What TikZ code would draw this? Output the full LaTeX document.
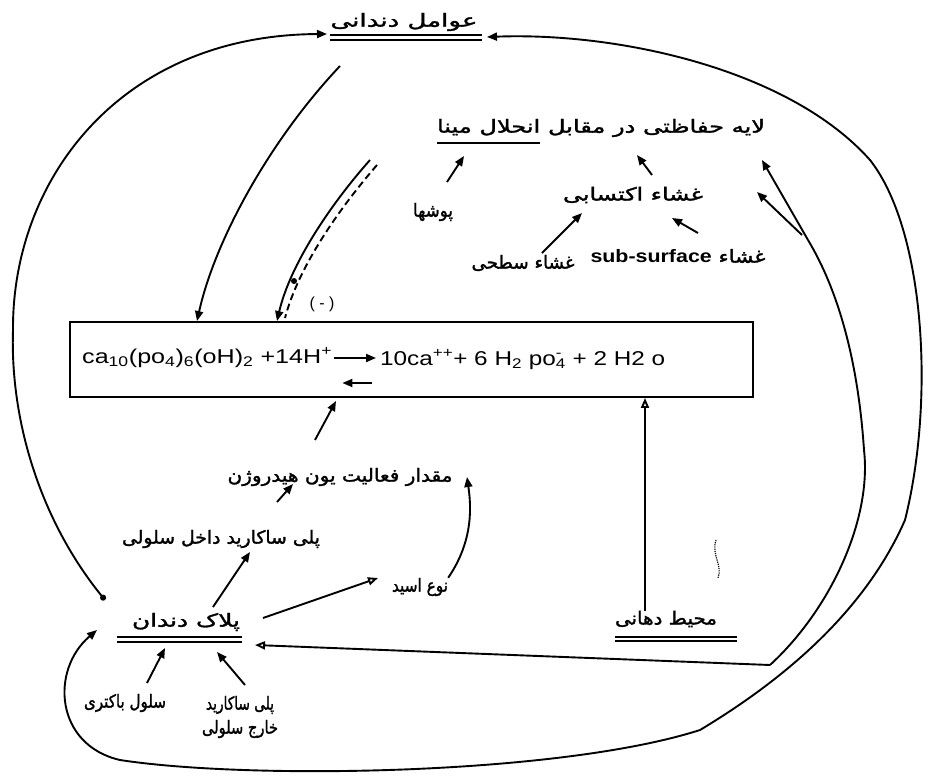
\documentclass[tikz,border=0pt]{standalone}
\usepackage{fontspec}
\usepackage{graphicx}
\usetikzlibrary{arrows.meta}

\newfontfamily\pfont[Script=Arabic,AutoFakeBold=1.5]{DejaVu Sans}
\newfontfamily\eqfont{Liberation Sans}
\TeXXeTstate=1

% stretch a box to a given width (pt), keeping its height
\newsavebox\fitbox
\newlength\fitlen
\newcommand\fitw[2]{\sbox\fitbox{#2}\setlength\fitlen{\wd\fitbox}%
	\pgfmathsetmacro\fitratio{#1/\fitlen}\scalebox{\fitratio}[1]{\usebox\fitbox}}
\newcommand\fa[2]{\fitw{#1}{\pfont\bfseries #2}}

\begin{document}
\begin{tikzpicture}[x=1pt,y=-1pt,
	lbl/.style={inner sep=0pt,font=\fontsize{18}{24}\selectfont},
	eq/.style={inner sep=0pt,font=\eqfont\fontsize{20}{24}\selectfont},
	wire/.style={line width=1.9pt},
	uline/.style={line width=1.4pt},
	tip/.style={-{Triangle[length=10pt,width=8pt]}},
	otip/.style={-{Triangle[open,length=10pt,width=8pt]}}]
	\useasboundingbox (0,0) rectangle (930,777);
	%
	\node[lbl] (dental) at (404,22) {\fa{147}{\beginR عوامل دندانی\endR}};
	\node[lbl] (layer) at (601,128) {\fa{328}{\beginR لایه حفاظتی در مقابل انحلال مینا\endR}};
	\node[lbl] (coat) at (433,212) {\fa{40}{\beginR پوشها\endR}};
	\node[lbl] (pellicle) at (633,195) {\fa{140}{\beginR غشاء اکتسابی\endR}};
	\node[lbl] (subsurf) at (678,256) {\fa{175}{\beginR غشاء \beginL{\eqfont\bfseries sub-surface}\endL\endR}};
	\node[lbl] (surface) at (523,263) {\fa{103}{\beginR غشاء سطحی\endR}};
	\node[lbl] (hyd) at (340,477) {\fa{225}{\beginR مقدار فعالیت یون هیدروژن\endR}};
	\node[lbl] (polyin) at (221,539) {\fa{198}{\beginR پلی ساکارید داخل سلولی\endR}};
	\node[lbl] (acid) at (420,587) {\fa{56}{\beginR نوع اسید\endR}};
	\node[lbl] (plaque) at (186,622) {\fa{108}{\beginR پلاک دندان\endR}};
	\node[lbl] (oral) at (666,619) {\fa{102}{\beginR محیط دهانی\endR}};
	\node[lbl] (bact) at (125,703) {\fa{82}{\beginR سلول باکتری\endR}};
	\node[lbl,align=center] (polyex) at (240,717) {\fa{68}{\beginR پلی ساکارید\endR}\\\fa{76}{\beginR خارج سلولی\endR}};
	%
	% the reaction
	\node[draw,wire,inner sep=0pt,minimum width=683pt,minimum height=75pt] (box) at (411.5,359.5) {};
	\node[eq,anchor=base west] (lhs) at (82,363) {\fitw{250}{ca\textsubscript{10}(po\textsubscript{4})\textsubscript{6}(oH)\textsubscript{2} +14H\textsuperscript{+}}};
	\node[eq,anchor=base west] (rhs) at (380,365) {\fitw{285}{10ca\textsuperscript{++}+ 6 H\textsubscript{2} po\rlap{\textsuperscript{-}}\textsubscript{4} + 2 H2 o}};
	\node[eq,font=\eqfont\fontsize{16}{18}\selectfont] (sign) at (322,304) {( - )};
	\draw[wire,tip] ([xshift=2pt,yshift=5pt]lhs.base east) -- ([xshift=-4pt,yshift=7pt]rhs.base west);
	\draw[wire,tip] ([xshift=-8pt,yshift=-18pt]rhs.base west) -- ([xshift=10pt,yshift=-20pt]lhs.base east);
	%
	% underlines
	\draw[uline] (330,35) -- (482,35) (330,40) -- (482,40);
	\draw[uline] (437,143) -- (540,143);
	\draw[uline] (117,637) -- (242,637) (117,642) -- (242,642);
	\draw[uline] (615,637) -- (737,637) (615,641) -- (737,641);
	%
	% arrow ends
	\coordinate (coat-a) at (447,182);    \coordinate (coat-b) at (464,156);
	\coordinate (pell-a) at (652,175);    \coordinate (pell-b) at (637,155);
	\coordinate (surf-a) at (542,253);    \coordinate (surf-b) at (582,213);
	\coordinate (sub-a) at (698,233);     \coordinate (sub-b) at (672,218);
	\coordinate (hyd-a) at (315,440);     \coordinate (hyd-b) at (336,401);
	\coordinate (pin-a) at (277,502);     \coordinate (pin-b) at (293,484);
	\coordinate (pl-a) at (213,607);      \coordinate (pl-b) at (250,552);
	\coordinate (ac-a) at (263,618);      \coordinate (ac-b) at (378,578);
	\coordinate (bac-a) at (147,683);     \coordinate (bac-b) at (165,648);
	\coordinate (pex-a) at (245,685);     \coordinate (pex-b) at (217,652);
	\coordinate (fork) at (808,240);
	\coordinate (lay-a) at (762,160);     \coordinate (lay-b) at (757,192);
	\coordinate (meet) at (770,665);
	\coordinate (pl-in) at (255,645);
	\coordinate (pl-out) at (97,630);
	\coordinate (pl-top) at (105,600);
	\coordinate (den-l) at (327,34);
	\coordinate (den-r) at (487,37);
	\coordinate (den-a) at (340,66);
	\coordinate (ph-a) at (370,160);
	\coordinate (ph-b) at (377,165);
	%
	\path[wire,tip]
	% short arrows
	(coat-a) edge (coat-b)
	(pell-a) edge (pell-b)
	(surf-a) edge (surf-b)
	(sub-a) edge (sub-b)
	(hyd-a) edge (hyd-b)
	(pin-a) edge (pin-b)
	(pl-a) edge (pl-b)
	(bac-a) edge (bac-b)
	(pex-a) edge (pex-b)
	(ac-a) edge[otip] (ac-b)
	% into the protective layer
	(fork) edge (lay-a)
	([xshift=-6pt,yshift=5pt]fork) edge (lay-b);
	%
	% long curves
	\draw[wire,otip] ([xshift=-21pt]oral.north) -- ([xshift=-21pt]oral.north |- box.south);
	\draw[wire,tip] (acid.north east) .. controls (474,540) and (471,505) .. (hyd.east -| 467,0);
	\draw[wire,otip] (meet) -- (pl-in);
	\draw[wire] (meet) .. controls (830,610) and (872,520) .. (864,450)
		.. controls (858,360) and (838,290) .. (fork);
	\draw[wire,tip] (den-a) .. controls (270,140) and (215,240) .. (box.north -| 197,0);
	\draw[wire,tip] (ph-a) .. controls (330,205) and (290,265) .. (box.north -| 277,0);
	\draw[wire,dash pattern=on 7pt off 4pt] (ph-b) .. controls (338,210) and (298,268) .. (285,318);
	\fill (294,281) circle (3pt);
	\draw[wire,{Circle[length=6pt]}-{Triangle[length=10pt,width=8pt]}] (pl-top)
		.. controls (40,520) and (10,420) .. (13,330)
		.. controls (12,180) and (120,35) .. (den-l);
	\draw[wire,{Triangle[length=10pt,width=8pt]}-{Triangle[length=10pt,width=8pt]}] (den-r)
		.. controls (620,32) and (790,70) .. (870,160)
		.. controls (925,230) and (935,400) .. (905,520)
		.. controls (870,600) and (800,670) .. (700,730)
		.. controls (560,775) and (250,780) .. (120,760)
		.. controls (55,745) and (50,670) .. (pl-out);
	%
	% speckle near the oral label
	\draw[densely dotted,line width=1.2pt] (716,540) .. controls (711,555) and (723,565) .. (718,578);
\end{tikzpicture}
\end{document}
